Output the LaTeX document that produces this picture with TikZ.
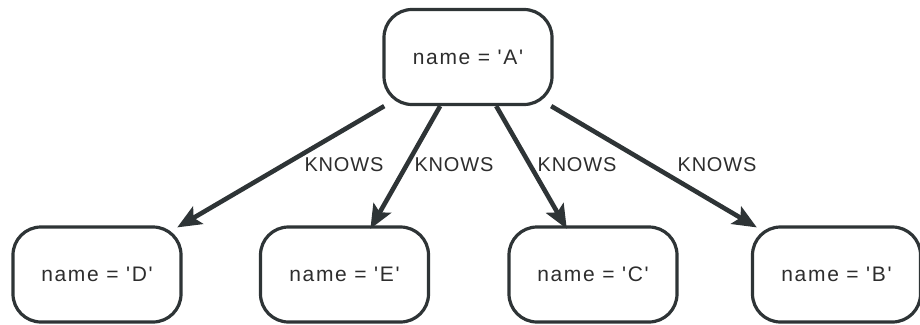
\documentclass[tikz,border=0pt]{standalone}
\usepackage{fontspec}
\newfontfamily\nodefont[LetterSpace=8,Ligatures=TeXOff]{Liberation Sans}
\newfontfamily\lblfont[LetterSpace=4,Ligatures=TeXOff]{Liberation Sans}
\usetikzlibrary{arrows.meta}
\definecolor{ink}{RGB}{46,52,54}
\definecolor{txt}{RGB}{45,45,45}
\begin{document}
\begin{tikzpicture}[x=1pt,y=-1pt,
  gnode/.style={draw=ink, line width=3.2pt, rounded corners=28pt,
    minimum width=168pt, minimum height=95pt, inner sep=0pt,
    text=txt, font=\nodefont\fontsize{21}{25}\selectfont},
  rel/.style={draw=ink, line width=4.6pt, shorten >=-4pt,
    -{Stealth[length=24pt,width=20pt,inset=5pt]}},
  lbl/.style={text=txt, inner sep=0pt, font=\lblfont\fontsize{20}{24}\selectfont}]
\useasboundingbox (0,0) rectangle (920,324);
\node[gnode] (A) at (468,57) {name = 'A'};
\node[gnode] (D) at (97,274.5) {name = 'D'};
\node[gnode] (E) at (344.5,274.5) {name = 'E'};
\node[gnode] (C) at (593,274.5) {name = 'C'};
\node[gnode] (B) at (836.5,274.5) {name = 'B'};
\draw[rel] (A) -- (D);
\draw[rel] (A) -- (E);
\draw[rel] (A) -- (C);
\draw[rel] (A) -- (B);
\node[lbl] (kD) at (344,165) {KNOWS};
\node[lbl] (kE) at (454,165) {KNOWS};
\node[lbl] (kC) at (577,165) {KNOWS};
\node[lbl] (kB) at (717,165) {KNOWS};
\end{tikzpicture}
\end{document}
